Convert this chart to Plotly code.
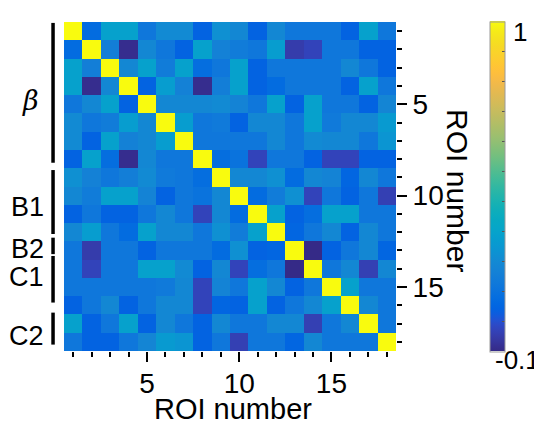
import plotly.graph_objects as go

# ---------------- data ----------------
roi = list(range(1, 19))

corr = [
    [1.00, 0.07, 0.29, 0.29, 0.12, 0.20, 0.20, 0.04, 0.22, 0.19, 0.04, 0.19, 0.12, 0.12, 0.12, 0.04, 0.29, 0.12],
    [0.07, 1.00, 0.15, -0.09, 0.19, 0.12, 0.04, 0.29, 0.16, 0.14, 0.12, 0.27, -0.05, -0.03, 0.12, 0.12, 0.04, 0.04],
    [0.29, 0.15, 1.00, 0.19, 0.29, 0.14, 0.29, 0.08, 0.12, 0.29, 0.04, 0.12, 0.12, 0.12, 0.12, 0.19, 0.12, 0.04],
    [0.29, -0.09, 0.19, 1.00, 0.04, 0.27, 0.16, -0.09, 0.15, 0.29, 0.04, 0.07, 0.12, 0.12, 0.12, 0.04, 0.29, 0.12],
    [0.12, 0.19, 0.29, 0.04, 1.00, 0.19, 0.19, 0.19, 0.20, 0.17, 0.12, 0.29, 0.04, 0.29, 0.12, 0.12, 0.04, 0.18],
    [0.20, 0.12, 0.14, 0.27, 0.19, 1.00, 0.27, 0.12, 0.13, 0.04, 0.19, 0.19, 0.12, 0.29, 0.13, 0.19, 0.19, 0.26],
    [0.20, 0.04, 0.29, 0.16, 0.19, 0.27, 1.00, 0.12, 0.12, 0.12, 0.12, 0.19, 0.12, 0.20, 0.19, 0.19, 0.12, 0.24],
    [0.04, 0.29, 0.08, -0.09, 0.19, 0.12, 0.12, 1.00, 0.08, 0.10, -0.03, 0.12, 0.12, 0.04, -0.03, -0.03, 0.04, 0.04],
    [0.22, 0.16, 0.12, 0.15, 0.20, 0.13, 0.12, 0.08, 1.00, 0.19, 0.19, 0.22, 0.07, 0.19, 0.17, 0.05, 0.19, 0.12],
    [0.19, 0.14, 0.29, 0.29, 0.17, 0.04, 0.12, 0.10, 0.19, 1.00, 0.07, 0.14, 0.22, -0.03, 0.12, 0.04, 0.12, -0.04],
    [0.04, 0.12, 0.04, 0.04, 0.12, 0.19, 0.12, -0.03, 0.19, 0.07, 1.00, 0.29, 0.04, 0.08, 0.29, 0.29, 0.12, 0.12],
    [0.19, 0.27, 0.12, 0.07, 0.29, 0.19, 0.19, 0.12, 0.22, 0.14, 0.29, 1.00, 0.05, 0.12, 0.19, 0.04, 0.19, 0.12],
    [0.12, -0.05, 0.12, 0.12, 0.04, 0.12, 0.12, 0.12, 0.07, 0.22, 0.04, 0.05, 1.00, -0.10, 0.04, 0.12, 0.19, 0.05],
    [0.12, -0.03, 0.12, 0.12, 0.29, 0.29, 0.20, 0.04, 0.19, -0.03, 0.08, 0.12, -0.10, 1.00, 0.12, 0.19, -0.04, 0.19],
    [0.12, 0.12, 0.12, 0.12, 0.12, 0.13, 0.19, -0.03, 0.17, 0.12, 0.29, 0.19, 0.04, 0.12, 1.00, 0.29, 0.12, 0.12],
    [0.04, 0.12, 0.19, 0.04, 0.12, 0.19, 0.19, -0.03, 0.05, 0.04, 0.29, 0.04, 0.12, 0.19, 0.29, 1.00, 0.19, 0.12],
    [0.29, 0.04, 0.12, 0.29, 0.04, 0.19, 0.12, 0.04, 0.19, 0.12, 0.12, 0.19, 0.19, -0.04, 0.12, 0.19, 1.00, 0.12],
    [0.12, 0.04, 0.04, 0.12, 0.18, 0.26, 0.24, 0.04, 0.12, -0.04, 0.12, 0.12, 0.05, 0.19, 0.12, 0.12, 0.12, 1.00],
]

major_ticks = [5, 10, 15]
zmin, zmax = -0.1, 1.0
cbar_ticks = [-0.1, 0.0, 0.1, 0.2, 0.3, 0.4, 0.5, 0.6, 0.7, 0.8, 0.9, 1.0]

group_names = ["\u03b2", "B1", "B2", "C1", "C2"]
group_start = [0.55, 8.6, 12.3, 13.3, 16.4]
group_end = [8.2, 12.1, 13.2, 15.85, 18.15]
group_label_pos = [4.77, 10.62, 12.92, 14.45, 17.68]

# ---------------- style ----------------
parula = [
    (0.2081, 0.1663, 0.5292), (0.2116, 0.1898, 0.5777), (0.2123, 0.2138, 0.6270), (0.2081, 0.2386, 0.6771),
    (0.1959, 0.2645, 0.7279), (0.1707, 0.2919, 0.7792), (0.1253, 0.3242, 0.8303), (0.0591, 0.3598, 0.8683),
    (0.0117, 0.3875, 0.8820), (0.0060, 0.4086, 0.8828), (0.0165, 0.4266, 0.8786), (0.0329, 0.4430, 0.8720),
    (0.0498, 0.4586, 0.8641), (0.0629, 0.4737, 0.8554), (0.0723, 0.4887, 0.8467), (0.0779, 0.5040, 0.8384),
    (0.0793, 0.5200, 0.8312), (0.0749, 0.5375, 0.8263), (0.0641, 0.5570, 0.8240), (0.0488, 0.5772, 0.8228),
    (0.0343, 0.5966, 0.8199), (0.0265, 0.6137, 0.8135), (0.0239, 0.6287, 0.8038), (0.0231, 0.6418, 0.7913),
    (0.0228, 0.6535, 0.7768), (0.0267, 0.6642, 0.7607), (0.0384, 0.6743, 0.7436), (0.0590, 0.6838, 0.7254),
    (0.0843, 0.6928, 0.7062), (0.1133, 0.7015, 0.6859), (0.1453, 0.7098, 0.6646), (0.1801, 0.7177, 0.6424),
    (0.2178, 0.7250, 0.6193), (0.2586, 0.7317, 0.5954), (0.3022, 0.7376, 0.5712), (0.3482, 0.7424, 0.5473),
    (0.3953, 0.7459, 0.5244), (0.4420, 0.7481, 0.5033), (0.4871, 0.7491, 0.4840), (0.5300, 0.7491, 0.4661),
    (0.5709, 0.7485, 0.4494), (0.6099, 0.7473, 0.4337), (0.6473, 0.7456, 0.4188), (0.6834, 0.7435, 0.4044),
    (0.7184, 0.7411, 0.3905), (0.7525, 0.7384, 0.3768), (0.7858, 0.7356, 0.3633), (0.8185, 0.7327, 0.3498),
    (0.8507, 0.7299, 0.3360), (0.8824, 0.7274, 0.3217), (0.9139, 0.7258, 0.3063), (0.9450, 0.7261, 0.2886),
    (0.9739, 0.7314, 0.2666), (0.9938, 0.7455, 0.2403), (0.9990, 0.7653, 0.2164), (0.9955, 0.7861, 0.1967),
    (0.9880, 0.8066, 0.1794), (0.9789, 0.8271, 0.1633), (0.9697, 0.8481, 0.1475), (0.9626, 0.8705, 0.1309),
    (0.9589, 0.8949, 0.1132), (0.9598, 0.9218, 0.0948), (0.9661, 0.9514, 0.0755), (0.9763, 0.9831, 0.0538),
]
n = len(parula)
colorscale = [[i / (n - 1), "rgb(%d,%d,%d)" % tuple(round(c * 255) for c in rgb)] for i, rgb in enumerate(parula)]

FONT = "Liberation Sans, Arial, Helvetica, sans-serif"
FS_TICK = 28
FS_TITLE = 29
FS_GROUP = 27
FS_CBAR = 26

fig = go.Figure(
    go.Heatmap(
        z=corr, x=roi, y=roi, zmin=zmin, zmax=zmax, colorscale=colorscale,
        showscale=True,
        colorbar=dict(
            thickness=15, thicknessmode="pixels", len=1.003, lenmode="fraction",
            x=1.283, xanchor="left", xref="paper", y=0.5, yanchor="middle",
            xpad=0, ypad=0, outlinewidth=1, outlinecolor="#9a9a9a",
            tickmode="array", tickvals=cbar_ticks, ticktext=[""] * len(cbar_ticks),
            ticks="inside", ticklen=3, tickwidth=1, tickcolor="#555555",
        ),
        hoverongaps=False,
    )
)

# the page body has an 8 px margin, so the figure is 8 px smaller than the window
fig.update_layout(
    width=534, height=420,
    margin=dict(l=56, r=146, t=14, b=77),
    paper_bgcolor="white", plot_bgcolor="white",
    font=dict(family=FONT, size=FS_TICK, color="black"),
    showlegend=False,
)

fig.update_xaxes(
    range=[0.5, 18.5], tickmode="array", tickvals=major_ticks, ticks="outside",
    ticklen=10, tickwidth=2, tickcolor="black", showgrid=False, zeroline=False,
    showline=False, tickfont=dict(family=FONT, size=FS_TICK, color="black"),
    ticklabelstandoff=-3,
    minor=dict(tickmode="linear", tick0=1, dtick=1, ticks="outside", ticklen=5,
               tickwidth=2, tickcolor="black", showgrid=False),
)
fig.update_yaxes(
    range=[18.5, 0.5], side="right", tickmode="array", tickvals=major_ticks, ticks="outside",
    ticklen=10, tickwidth=2, tickcolor="black", showgrid=False, zeroline=False,
    showline=False, tickfont=dict(family=FONT, size=FS_TICK, color="black"),
    minor=dict(tickmode="linear", tick0=1, dtick=1, ticks="outside", ticklen=5,
               tickwidth=2, tickcolor="black", showgrid=False),
)

annotations = [
    dict(text="ROI number", xref="paper", yref="paper", x=0.509, y=-0.177,
         xanchor="center", yanchor="middle", showarrow=False,
         font=dict(family=FONT, size=FS_TITLE, color="black")),
    dict(text="ROI number", xref="paper", yref="paper", x=1.187, y=0.489,
         xanchor="center", yanchor="middle", textangle=90, showarrow=False,
         font=dict(family=FONT, size=FS_TITLE + 1, color="black")),
    dict(text="1", xref="paper", yref="paper", x=1.345, y=0.970,
         xanchor="left", yanchor="middle", showarrow=False,
         font=dict(family=FONT, size=FS_CBAR, color="black")),
    dict(text="-0.1", xref="paper", yref="paper", x=1.292, y=-0.027,
         xanchor="left", yanchor="middle", showarrow=False,
         font=dict(family=FONT, size=FS_CBAR, color="black")),
]
shapes = []
for name, y0, y1, yl in zip(group_names, group_start, group_end, group_label_pos):
    shapes.append(dict(type="line", xref="paper", yref="y", x0=-0.033, x1=-0.033,
                       y0=y0, y1=y1, line=dict(color="black", width=3.5)))
    is_beta = name == "\u03b2"
    annotations.append(dict(
        text="<i>%s</i>" % name if is_beta else name,
        xref="paper", yref="y", x=-0.07 if is_beta else -0.055, y=yl,
        xanchor="right", yanchor="middle", showarrow=False,
        font=dict(family="DejaVu Serif, serif" if is_beta else FONT, size=FS_GROUP, color="black"),
    ))

fig.update_layout(annotations=annotations, shapes=shapes)

fig.write_html("out.html")
